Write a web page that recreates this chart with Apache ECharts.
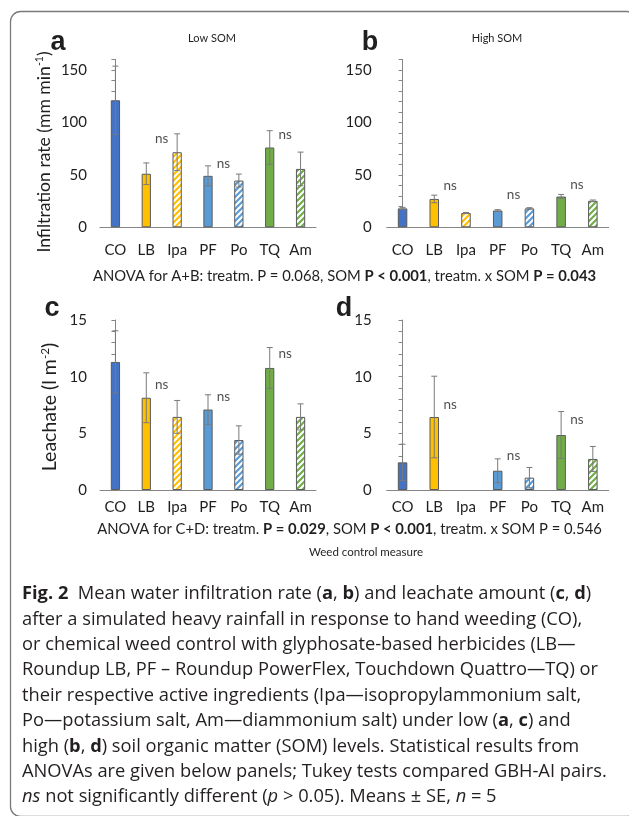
<!DOCTYPE html>
<html><head><meta charset="utf-8">
<script src="https://cdn.jsdelivr.net/npm/echarts@6/dist/echarts.min.js"></script>
<style>html,body{margin:0;padding:0;background:#fff;}#c{width:629px;height:816px;}</style>
</head><body><div id="c"></div>
<script>
// ---------- data ----------
const categories = ['CO', 'LB', 'Ipa', 'PF', 'Po', 'TQ', 'Am'];
const infilLow = [121, 51, 71.5, 49, 44.5, 76, 55.6];
const infilLowSE = [32.5, 10.3, 17.5, 9.5, 6.2, 16, 16];
const infilHigh = [18, 27, 13.6, 16, 18, 29.3, 25.2];
const infilHighSE = [1, 3.6, 0.5, 0.8, 0.7, 2, 0.8];
const leachLow = [11.3, 8.14, 6.45, 7.1, 4.41, 10.77, 6.45];
const leachLowSE = [2.75, 2.2, 1.45, 1.3, 1.25, 1.8, 1.15];
const leachHigh = [2.44, 6.44, null, 1.7, 1.09, 4.85, 2.74];
const leachHighSE = [1.6, 3.6, null, 1.05, 0.9, 2.07, 1.1];
const nsX = [1.5, 3.5, 5.5];
const nsA = [84, 61, 88];
const nsB = [39.4, 31.5, 41];
const nsC = [9.3, 8.2, 12.07];
const nsD = [7.56, 3.0, 6.18];
const infilTicks = [0, 50, 100, 150];
const leachTicks = [0, 5, 10, 15];

// ---------- styles ----------
const baseColors = ['#4472C4', '#FFC000', '#FFC000', '#5B9BD5', '#5B9BD5', '#70AD47', '#70AD47'];
const hatched = [false, false, true, false, true, false, true];
function hatch(color) {
  const s = 6, c = document.createElement('canvas');
  c.width = s; c.height = s;
  const g = c.getContext('2d');
  g.fillStyle = '#fff'; g.fillRect(0, 0, s, s);
  g.strokeStyle = color; g.lineWidth = 2.2;
  g.beginPath();
  g.moveTo(0, s); g.lineTo(s, 0);
  g.moveTo(-1, 1); g.lineTo(1, -1);
  g.moveTo(s - 1, s + 1); g.lineTo(s + 1, s - 1);
  g.stroke();
  return { image: c, repeat: 'repeat' };
}
const fills = baseColors.map((c, i) => hatched[i] ? hatch(c) : c);
const TXT = '#1f1f1f';
const AX = '#868686';
const FONT = 'Lato';

const panels = [
  { vals: infilLow, se: infilLowSE, ns: nsA, max: 160, step: 10, ticks: infilTicks, xm: 15, ym: 13, grid: { left: 100, top: 59.3, width: 216, height: 168 } },
  { vals: infilHigh, se: infilHighSE, ns: nsB, max: 160, step: 10, ticks: infilTicks, xm: 15, ym: 15, grid: { left: 386.7, top: 59.3, width: 222, height: 168 } },
  { vals: leachLow, se: leachLowSE, ns: nsC, max: 15, step: 1, ticks: leachTicks, xm: 10, ym: 13, grid: { left: 100, top: 320, width: 216, height: 170 } },
  { vals: leachHigh, se: leachHighSE, ns: nsD, max: 15, step: 1, ticks: leachTicks, xm: 10, ym: 15, grid: { left: 386.7, top: 320, width: 222, height: 170 } }
];

const grid = [], xAxis = [], yAxis = [], series = [];
panels.forEach((p, k) => {
  grid.push(p.grid);
  xAxis.push({
    gridIndex: k, type: 'category', data: categories,
    axisLine: { lineStyle: { color: AX, width: 1 } },
    axisTick: { length: 4, lineStyle: { color: AX } },
    axisLabel: { color: TXT, fontSize: 15, fontFamily: FONT, margin: p.xm, interval: 0 },
    splitLine: { show: false }
  });
  xAxis.push({ gridIndex: k, type: 'value', min: -0.5, max: 6.5, show: false });
  yAxis.push({
    gridIndex: k, type: 'value', min: 0, max: p.max, interval: p.step,
    axisLine: { show: true, lineStyle: { color: AX, width: 1 } },
    axisTick: { show: true, length: 4, lineStyle: { color: AX } },
    axisLabel: { customValues: p.ticks, color: TXT, fontSize: 15, fontFamily: FONT, margin: p.ym },
    splitLine: { show: false }
  });
  series.push({
    type: 'bar', xAxisIndex: 2 * k, yAxisIndex: k, barWidth: '30%',
    data: p.vals.map((v, i) => ({ value: v == null ? '-' : v, itemStyle: { color: fills[i] } })),
    itemStyle: { borderColor: '#5a5a5a', borderWidth: 1 },
    emphasis: { disabled: true }, silent: true
  });
  series.push({
    type: 'custom', xAxisIndex: 2 * k, yAxisIndex: k, silent: true, z: 5,
    data: p.vals.map((v, i) => v == null ? null : [i, v, p.se[i]]).filter(d => d),
    renderItem: function (params, api) {
      const x = api.value(0), m = api.value(1), e = api.value(2);
      const t = api.coord([x, m + e]), b = api.coord([x, Math.max(0, m - e)]);
      const hw = 3, st = { stroke: '#7a7a7a', lineWidth: 1 };
      return {
        type: 'group', children: [
          { type: 'line', shape: { x1: t[0], y1: t[1], x2: b[0], y2: b[1] }, style: st },
          { type: 'line', shape: { x1: t[0] - hw, y1: t[1], x2: t[0] + hw, y2: t[1] }, style: st },
          { type: 'line', shape: { x1: b[0] - hw, y1: b[1], x2: b[0] + hw, y2: b[1] }, style: st }
        ]
      };
    }
  });
  series.push({
    type: 'scatter', xAxisIndex: 2 * k + 1, yAxisIndex: k, silent: true,
    symbolSize: 1, itemStyle: { color: 'rgba(0,0,0,0)' },
    data: nsX.map((x, i) => [x, p.ns[i]]),
    label: { show: true, position: 'inside', formatter: 'ns', color: TXT, fontSize: 13.5, fontFamily: FONT }
  });
});

function txt(x, y, text, opt) {
  return Object.assign({ type: 'text', x: x, y: y, silent: true,
    style: Object.assign({ text: text, fill: TXT, font: '14px ' + FONT, align: 'center', verticalAlign: 'middle' }, opt || {}) });
}

const capFont = 'Open Sans';
const capSize = 18.3;
const capRich = {
  b: { fontWeight: 'bold', fontFamily: capFont, fontSize: capSize, fill: '#231f20' },
  i: { fontStyle: 'italic', fontFamily: capFont, fontSize: capSize, fill: '#231f20' }
};
const captionLines = [
  '{b|Fig. 2}  Mean water infiltration rate ({b|a}, {b|b}) and leachate amount ({b|c}, {b|d})',
  'after a simulated heavy rainfall in response to hand weeding (CO),',
  'or chemical weed control with glyphosate-based herbicides (LB—',
  'Roundup LB, PF – Roundup PowerFlex, Touchdown Quattro—TQ) or',
  'their respective active ingredients (Ipa—isopropylammonium salt,',
  'Po—potassium salt, Am—diammonium salt) under low ({b|a}, {b|c}) and',
  'high ({b|b}, {b|d}) soil organic matter (SOM) levels. Statistical results from',
  'ANOVAs are given below panels; Tukey tests compared GBH-AI pairs.',
  '{i|ns} not significantly different ({i|p} > 0.05). Means ± SE, {i|n} = 5'
];
const supRich = (fs) => ({
  n: { fontSize: fs, fontFamily: FONT, fill: TXT, lineHeight: fs + 3 },
  s: { fontSize: fs * 0.6, fontFamily: FONT, fill: TXT, verticalAlign: 'top', lineHeight: fs + 3, padding: [0, 0, fs * 0.5, 0] }
});
const anovaRich = {
  n: { fontSize: 14.8, fontFamily: FONT, fill: TXT },
  b: { fontSize: 14.8, fontFamily: FONT, fontWeight: 'bold', fill: TXT }
};
const graphic = [
  { type: 'rect', silent: true, shape: { x: 10.5, y: 11.5, width: 626, height: 805, r: 10 },
    style: { fill: 'none', stroke: '#7a7a7a', lineWidth: 1.3 } },
  txt(212, 38, 'Low SOM', { font: '11px ' + FONT }),
  txt(497, 38, 'High SOM', { font: '11px ' + FONT }),
  txt(58, 43, 'a', { font: 'bold 27px Liberation Sans' }),
  txt(370, 43, 'b', { font: 'bold 27px Liberation Sans' }),
  txt(52, 309, 'c', { font: 'bold 27px Liberation Sans' }),
  txt(344, 309, 'd', { font: 'bold 27px Liberation Sans' }),
  Object.assign(txt(44, 152, '{n|Infiltration rate (mm min}{s|-1}{n|)}', { rich: supRich(17.6) }), { rotation: Math.PI / 2 }),
  Object.assign(txt(50, 407, '{n|Leachate (l m}{s|-2}{n|)}', { rich: supRich(19.5) }), { rotation: Math.PI / 2 }),
  txt(344.5, 276, '{n|ANOVA for A+B: treatm. P = 0.068, SOM }{b|P < 0.001}{n|, treatm. x SOM }{b|P = 0.043}', { rich: anovaRich }),
  txt(349.5, 529, '{n|ANOVA for C+D: treatm. }{b|P = 0.029}{n|, SOM }{b|P < 0.001}{n|, treatm. x SOM P = 0.546}', { rich: anovaRich }),
  txt(366, 552, 'Weed control measure', { font: '11.5px ' + FONT })
];
captionLines.forEach((l, i) => {
  graphic.push({ type: 'text', x: 22, y: 594 + i * 25.4, silent: true,
    style: { text: l, rich: capRich, font: capSize + 'px ' + capFont, fill: '#231f20', align: 'left', verticalAlign: 'middle' } });
});

const chart = echarts.init(document.getElementById('c'), null, { renderer: 'canvas' });
chart.setOption({
  animation: false,
  backgroundColor: '#fff',
  textStyle: { fontFamily: FONT },
  grid: grid, xAxis: xAxis, yAxis: yAxis, series: series, graphic: graphic
});
</script>
</body></html>
